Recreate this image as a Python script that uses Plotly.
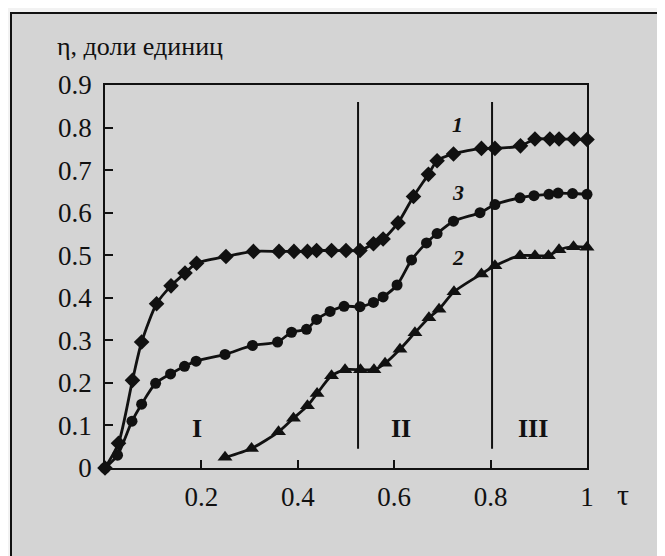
import plotly.graph_objects as go

# ---- data ----
tau1 = [0, 0.028, 0.057, 0.076, 0.107, 0.137, 0.166, 0.19, 0.251, 0.308, 0.361, 0.392, 0.42,
        0.439, 0.47, 0.5, 0.529, 0.557, 0.577, 0.608, 0.64, 0.671, 0.689, 0.723, 0.781,
        0.809, 0.862, 0.892, 0.923, 0.942, 0.973, 1.0]
eta1 = [0, 0.058, 0.206, 0.296, 0.386, 0.428, 0.458, 0.481, 0.497, 0.509, 0.509, 0.509, 0.509,
        0.511, 0.511, 0.511, 0.511, 0.527, 0.538, 0.576, 0.638, 0.69, 0.722, 0.738, 0.751,
        0.751, 0.757, 0.773, 0.773, 0.773, 0.773, 0.772]

tau3 = [0, 0.026, 0.056, 0.076, 0.105, 0.136, 0.165, 0.189, 0.249, 0.306, 0.358, 0.387, 0.418,
        0.439, 0.467, 0.496, 0.529, 0.557, 0.577, 0.606, 0.636, 0.667, 0.689, 0.723, 0.778,
        0.809, 0.861, 0.89, 0.921, 0.94, 0.97, 1.0]
eta3 = [0, 0.03, 0.11, 0.15, 0.199, 0.221, 0.239, 0.251, 0.267, 0.288, 0.296, 0.319, 0.326,
        0.349, 0.368, 0.38, 0.379, 0.389, 0.402, 0.43, 0.489, 0.529, 0.551, 0.58, 0.6,
        0.619, 0.635, 0.64, 0.643, 0.646, 0.645, 0.643]

tau2 = [0.249, 0.304, 0.36, 0.391, 0.42, 0.44, 0.47, 0.498, 0.53, 0.558, 0.581, 0.612, 0.643,
        0.672, 0.693, 0.724, 0.781, 0.809, 0.861, 0.892, 0.92, 0.942, 0.972, 1.0]
eta2 = [0.025, 0.046, 0.085, 0.117, 0.146, 0.175, 0.217, 0.231, 0.231, 0.231, 0.246, 0.279, 0.318,
        0.353, 0.373, 0.414, 0.456, 0.475, 0.499, 0.499, 0.499, 0.513, 0.52, 0.519]

boundaries = [0.525, 0.803]
boundary_span = [0.045, 0.86]

region_names = ["I", "II", "III"]
region_x = [0.19, 0.615, 0.888]
region_y = [0.092, 0.092, 0.092]

curve_names = ["1", "3", "2"]
curve_label_x = [0.732, 0.732, 0.732]
curve_label_y = [0.807, 0.648, 0.494]

x_ticks = [0.2, 0.4, 0.6, 0.8, 1.0]
x_tick_text = ["0.2", "0.4", "0.6", "0.8", "1"]
y_ticks = [0, 0.1, 0.2, 0.3, 0.4, 0.5, 0.6, 0.7, 0.8, 0.9]
y_tick_text = ["0", "0.1", "0.2", "0.3", "0.4", "0.5", "0.6", "0.7", "0.8", "0.9"]

y_title = "η, доли единиц"
x_title = "τ"

# ---- figure (page has an 8px body margin) ----
OFF = 8
W, H = 665 - OFF, 556 - OFF
L, T = 105 - OFF, 85 - OFF
R = W - (587 - OFF)
B = H - (468 - OFF)
PW, PH = W - L - R, H - T - B


def px_x(p):
    return (p - OFF - L) / PW


def px_y(p):
    return (H - B - (p - OFF)) / PH


INK = "#111111"
FONT = "Liberation Serif, Times New Roman, DejaVu Serif, serif"

fig = go.Figure()

for b in boundaries:
    fig.add_trace(go.Scatter(x=[b, b], y=boundary_span, mode="lines",
                             line=dict(color=INK, width=2), hoverinfo="skip",
                             showlegend=False))

series = [
    (tau2, eta2, "triangle-up", 13),
    (tau3, eta3, "circle", 11),
    (tau1, eta1, "diamond", 12),
]
for xs, ys, sym, sz in series:
    fig.add_trace(go.Scatter(
        x=xs, y=ys, mode="lines+markers",
        line=dict(color=INK, width=2.8, shape="spline", smoothing=0.7),
        marker=dict(symbol=sym, size=sz, color=INK),
        cliponaxis=False, showlegend=False))

for name, x, y in zip(region_names, region_x, region_y):
    fig.add_annotation(x=x, y=y, text=f"<b>{name}</b>", showarrow=False,
                       font=dict(family=FONT, size=26, color=INK))

for name, x, y in zip(curve_names, curve_label_x, curve_label_y):
    fig.add_annotation(x=x, y=y, text=f"<b><i>{name}</i></b>", showarrow=False,
                       font=dict(family=FONT, size=22, color=INK))

# axis titles
fig.add_annotation(xref="paper", yref="paper", x=px_x(55), y=px_y(47),
                   xanchor="left", yanchor="middle", text=y_title, showarrow=False,
                   font=dict(family=FONT, size=26, color=INK))
fig.add_annotation(xref="paper", yref="paper", x=px_x(623), y=px_y(494),
                   xanchor="center", yanchor="middle", text=x_title, showarrow=False,
                   font=dict(family=FONT, size=30, color=INK))

# scanned panel frame
fig.add_shape(type="rect", xref="paper", yref="paper", layer="below",
              x0=px_x(11), x1=px_x(720), y0=px_y(620), y1=px_y(13),
              fillcolor="#d4d4d4", line=dict(color=INK, width=2))

fig.update_xaxes(range=[0, 1], tickvals=x_ticks, ticktext=x_tick_text,
                 ticks="inside", ticklen=8, tickwidth=1.5, tickcolor=INK,
                 showline=True, linecolor=INK, linewidth=1.5, mirror=True,
                 showgrid=False, zeroline=False, ticklabelstandoff=4,
                 tickfont=dict(family=FONT, size=27, color=INK))
fig.update_yaxes(range=[0, 0.9], tickvals=y_ticks, ticktext=y_tick_text,
                 ticks="inside", ticklen=8, tickwidth=1.5, tickcolor=INK,
                 showline=True, linecolor=INK, linewidth=1.5, mirror=True,
                 showgrid=False, zeroline=False, ticklabelstandoff=6,
                 tickfont=dict(family=FONT, size=27, color=INK))

fig.update_layout(width=W, height=H, margin=dict(l=L, r=R, t=T, b=B),
                  paper_bgcolor="#f2f2f2", plot_bgcolor="white",
                  font=dict(family=FONT), showlegend=False)

fig.write_html("out.html")
